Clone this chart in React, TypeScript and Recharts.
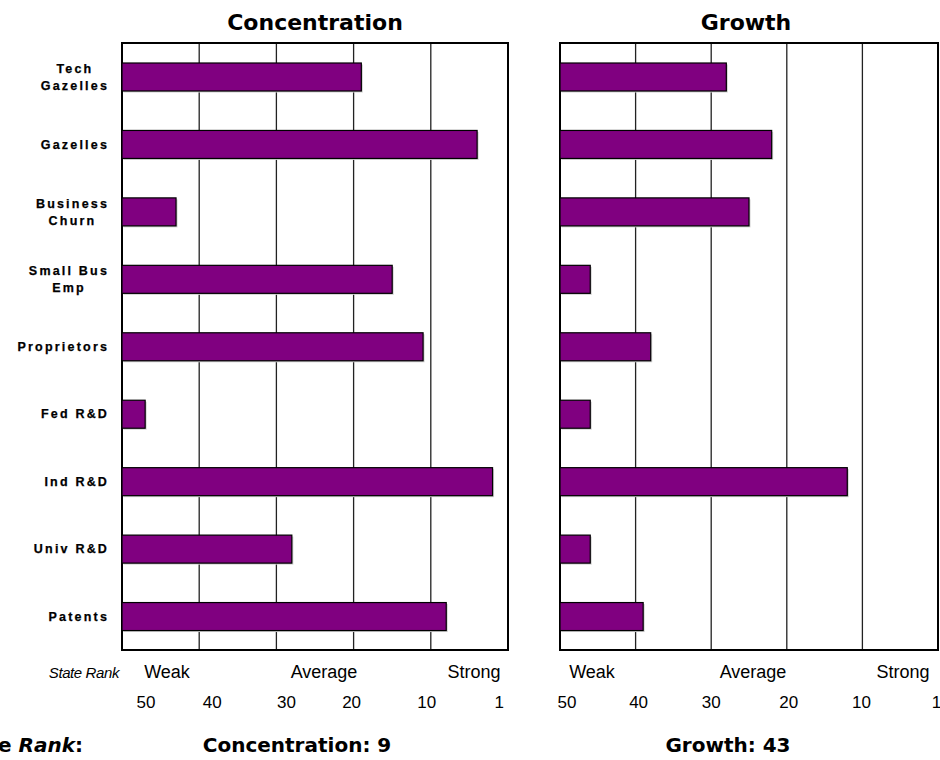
import React from "react";
import { BarChart, Bar, XAxis, YAxis, CartesianGrid, ReferenceArea } from "recharts";

// indicators, top to bottom
const categories = [
  "Tech\nGazelles",
  "Gazelles",
  "Business\nChurn",
  "Small Bus\nEmp",
  "Proprietors",
  "Fed R&D",
  "Ind R&D",
  "Univ R&D",
  "Patents",
];
// state rank per indicator (50 = weakest, 1 = strongest)
const concentrationRanks = [19, 4, 43, 15, 11, 47, 2, 28, 8];
const growthRanks = [28, 22, 25, 46, 38, 46, 12, 46, 39];

const rankTicks = [50, 40, 30, 20, 10, 1];
const gridRanks = [40, 30, 20, 10];
const strengthLabels = ["Weak", "Average", "Strong"];
const summaryLabels = ["Concentration", "Growth"];
const summaryRanks = [9, 43];

const WORST = 50;
const BEST = 0;

const data = categories.map((name, i) => ({
  name,
  concentration: concentrationRanks[i],
  growth: growthRanks[i],
}));

const SANS = '"Liberation Sans", Arial, sans-serif';
const WIDE = '"DejaVu Sans", Verdana, sans-serif';
const PURPLE = "#800080";

// rough Arial bold advance widths, used to centre the two-line labels
const BOLD_W: Record<string, number> = {
  T: 611, e: 556, c: 556, h: 611, G: 778, a: 556, z: 500, l: 278, s: 556,
  B: 722, u: 611, i: 278, n: 611, C: 722, r: 389, S: 667, m: 889, E: 667,
  p: 611, P: 667, o: 611, t: 333, F: 611, d: 611, R: 722, "&": 722, D: 722,
  I: 278, U: 722, v: 556, " ": 278,
};

function textWidth(s: string, size: number, spacing: number) {
  let w = 0;
  for (const ch of s) w += ((BOLD_W[ch] ?? 600) * size) / 1000 + spacing;
  return w;
}

function CategoryTick(props: any) {
  const { x, y, payload } = props;
  const lines = String(payload.value).split("\n");
  const size = 12.5;
  const spacing = 2.2;
  const lineGap = 17;
  const widest = Math.max(...lines.map((l) => textWidth(l, size, spacing)));
  const cx = x - widest / 2 + spacing / 2;
  const first = -((lines.length - 1) * lineGap) / 2;
  return (
    <text
      textAnchor="middle"
      fontFamily={SANS}
      fontWeight="bold"
      fontSize={size}
      letterSpacing={spacing}
      fill="#000"
      stroke="#000"
      strokeWidth={0.25}
    >
      {lines.map((l, i) => (
        <tspan key={i} x={cx} y={y + first + i * lineGap} dy="0.36em">
          {l}
        </tspan>
      ))}
    </text>
  );
}

function RankTick(props: any) {
  const { x, y, payload, index, nudge } = props;
  return (
    <text
      x={x + (nudge[index] ?? 0)}
      y={y + 58}
      textAnchor="middle"
      fontFamily={SANS}
      fontSize={17}
      fill="#000"
    >
      {payload.value}
    </text>
  );
}

function ShadowBar(props: any) {
  const { x, y, width, height } = props;
  if (width == null || height == null) return null;
  return (
    <g>
      <rect x={x + 1.5} y={y + 1.5} width={width} height={height} fill="#d0d0d0" />
      <rect x={x} y={y} width={width} height={height} fill={PURPLE} stroke="#000" strokeWidth={1.2} />
    </g>
  );
}

function Panel(props: {
  field: "concentration" | "growth";
  left: number;
  width: number;
  marginLeft: number;
  marginRight: number;
  showCategories: boolean;
  nudge: number[];
}) {
  const { field, left, width, marginLeft, marginRight, showCategories, nudge } = props;
  return (
    <div style={{ position: "absolute", left, top: 0 }}>
      <BarChart
        width={width}
        height={760}
        data={data}
        layout="vertical"
        barSize={28}
        margin={{ top: 43, right: marginRight, bottom: 0, left: marginLeft }}
      >
        <CartesianGrid
          horizontal={false}
          verticalValues={gridRanks}
          stroke="#222"
          strokeWidth={1.3}
        />
        <XAxis
          type="number"
          domain={[BEST, WORST]}
          reversed
          allowDataOverflow
          ticks={rankTicks}
          interval={0}
          axisLine={false}
          tickLine={false}
          tickSize={0}
          tickMargin={0}
          height={110}
          tick={(p: any) => <RankTick {...p} nudge={nudge} />}
        />
        <YAxis
          type="category"
          dataKey="name"
          width={122}
          hide={!showCategories}
          axisLine={false}
          tickLine={false}
          tickSize={0}
          tickMargin={14}
          interval={0}
          tick={<CategoryTick />}
        />
        <Bar
          dataKey={(d: any) => [WORST, d[field]]}
          isAnimationActive={false}
          shape={<ShadowBar />}
        />
        <ReferenceArea
          x1={WORST}
          x2={BEST}
          fill="none"
          fillOpacity={0}
          stroke="#000"
          strokeWidth={2}
          ifOverflow="visible"
        />
      </BarChart>
    </div>
  );
}

const titleX = [315, 746];
const strengthX = [
  [167, 324, 474],
  [592, 753, 903],
];
const summaryX = [297, 728];

export default function App() {
  return (
    <div
      style={{
        position: "absolute",
        left: 0,
        top: 0,
        width: 940,
        height: 760,
        overflow: "hidden",
        background: "#fff",
      }}
    >
      <Panel
        field="concentration"
        left={0}
        width={520}
        marginLeft={0}
        marginRight={12}
        showCategories
        nudge={[24, 13, 10, -2, -4, -1]}
      />
      <Panel
        field="growth"
        left={520}
        width={420}
        marginLeft={40}
        marginRight={2}
        showCategories={false}
        nudge={[7, 3, 0, 2, -1, 6]}
      />
      <svg
        width={940}
        height={760}
        style={{ position: "absolute", left: 0, top: 0, pointerEvents: "none" }}
      >
        {summaryLabels.map((t, i) => (
          <text
            key={"title" + t}
            x={titleX[i]}
            y={30}
            textAnchor="middle"
            fontFamily={WIDE}
            fontWeight="bold"
            fontSize={22}
            fill="#000"
          >
            {t}
          </text>
        ))}
        <text
          x={119}
          y={678}
          textAnchor="end"
          fontFamily={SANS}
          fontStyle="italic"
          fontSize={15}
          letterSpacing={-0.4}
          fill="#000"
        >
          State Rank
        </text>
        {strengthX.map((xs, p) =>
          strengthLabels.map((s, i) => (
            <text
              key={p + s}
              x={xs[i]}
              y={678}
              textAnchor="middle"
              fontFamily={SANS}
              fontSize={18}
              fill="#000"
            >
              {s}
            </text>
          ))
        )}
        <text x={83} y={752} textAnchor="end" fontFamily={WIDE} fontWeight="bold" fontSize={20} fill="#000">
          State <tspan fontStyle="italic">Rank</tspan>:
        </text>
        {summaryLabels.map((t, i) => (
          <text
            key={"sum" + t}
            x={summaryX[i]}
            y={752}
            textAnchor="middle"
            fontFamily={WIDE}
            fontWeight="bold"
            fontSize={20}
            fill="#000"
          >
            {t}: {summaryRanks[i]}
          </text>
        ))}
      </svg>
    </div>
  );
}
